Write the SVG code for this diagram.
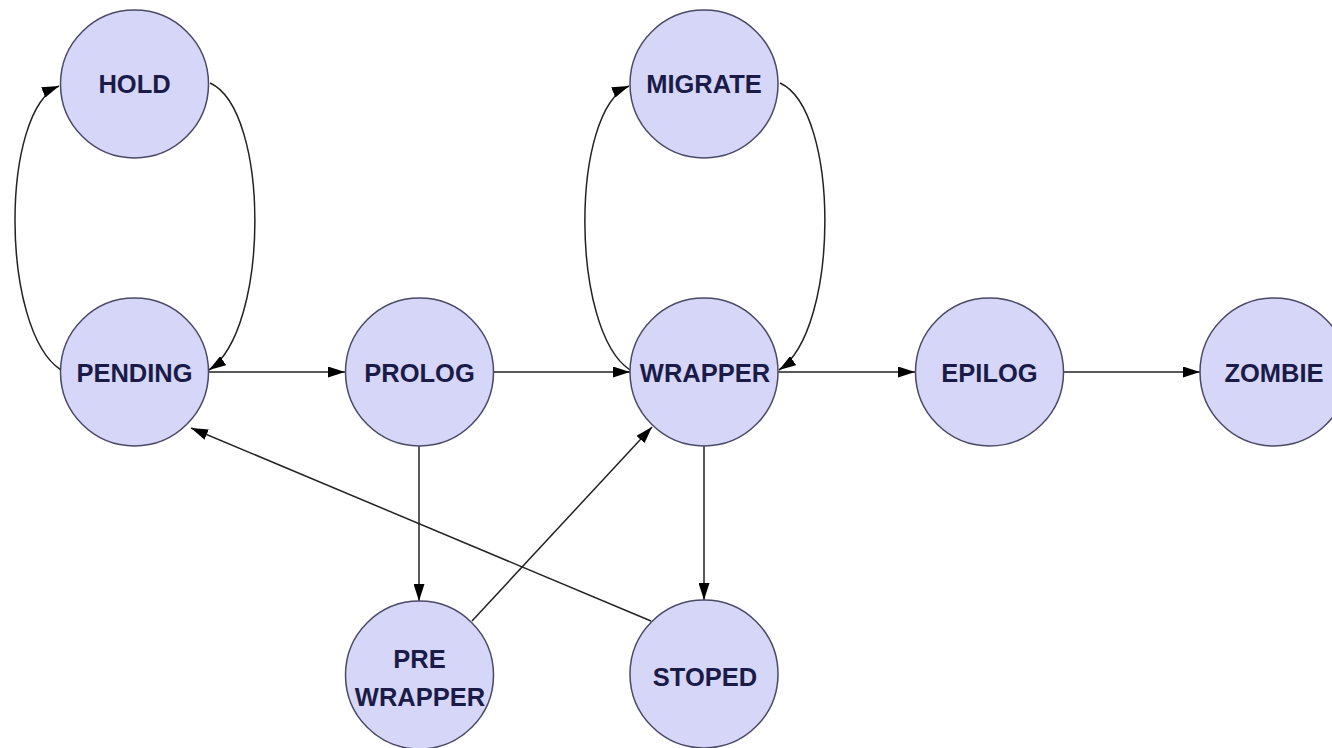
<svg xmlns="http://www.w3.org/2000/svg" width="1332" height="748" viewBox="0 0 1332 748">
<defs>
<marker id="arr" markerWidth="18" markerHeight="11" refX="17" refY="5.5" orient="auto" markerUnits="userSpaceOnUse">
<path d="M0,0 L17,5.5 L0,11 Z" fill="#000"/>
</marker>
<style>
.node circle{fill:#d6d6f8;stroke:#4a4a66;stroke-width:1.5}
.node text{font-family:"Liberation Sans",Arial,sans-serif;font-weight:bold;font-size:25.5px;fill:#1b1b48;text-anchor:middle}
.edges path,.edges line{fill:none;stroke:#222;stroke-width:1.5;marker-end:url(#arr)}
</style>
</defs>
<rect width="1332" height="748" fill="#fff"/>
<g class="edges" id="connectors">
<path d="M61,370 C0,330 0,110 59,86"/>
<path d="M210,83 C270,110 270,330 209,370"/>
<path d="M630,370 C570,330 570,110 629,86"/>
<path d="M780,83 C840,110 840,330 779,370"/>
<line x1="208" y1="372" x2="345" y2="372"/>
<line x1="494" y1="372" x2="630" y2="372"/>
<line x1="778" y1="372" x2="915" y2="372"/>
<line x1="1064" y1="372" x2="1200" y2="372"/>
<line x1="419" y1="446" x2="419" y2="601"/>
<line x1="704" y1="446" x2="704" y2="600"/>
<line x1="472" y1="621" x2="652" y2="427"/>
<line x1="651" y1="621" x2="191" y2="428"/>
</g>
<g class="node" id="HOLD"><circle cx="134.5" cy="84" r="74"/><text x="134.5" y="93">HOLD</text></g>
<g class="node" id="MIGRATE"><circle cx="704" cy="84" r="74"/><text x="704" y="93">MIGRATE</text></g>
<g class="node" id="PENDING"><circle cx="134.5" cy="372" r="74"/><text x="134.5" y="382">PENDING</text></g>
<g class="node" id="PROLOG"><circle cx="419.5" cy="372" r="74"/><text x="419.5" y="382">PROLOG</text></g>
<g class="node" id="WRAPPER"><circle cx="704" cy="372" r="74"/><text x="705" y="382">WRAPPER</text></g>
<g class="node" id="EPILOG"><circle cx="989.5" cy="372" r="74"/><text x="989.5" y="382">EPILOG</text></g>
<g class="node" id="ZOMBIE"><circle cx="1274" cy="372" r="74"/><text x="1274" y="382">ZOMBIE</text></g>
<g class="node" id="PRE_WRAPPER"><circle cx="419.5" cy="675" r="74"/><text x="419.5" y="668">PRE</text><text x="420" y="706">WRAPPER</text></g>
<g class="node" id="STOPED"><circle cx="704" cy="674" r="74"/><text x="705" y="686">STOPED</text></g>
</svg>
